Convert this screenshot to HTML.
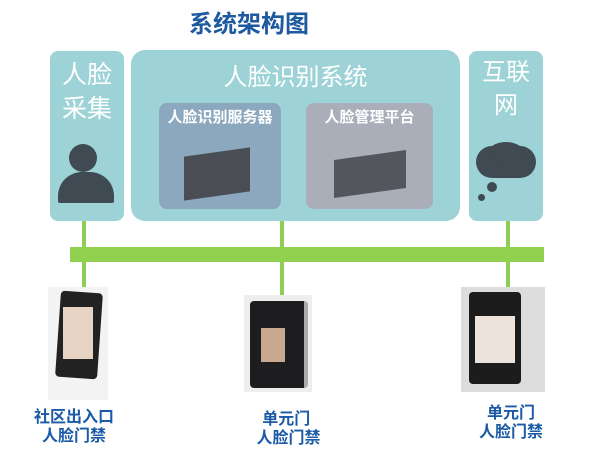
<!DOCTYPE html>
<html><head><meta charset="utf-8"><style>
body{margin:0;width:600px;height:450px;background:#fff;position:relative;overflow:hidden;font-family:"Liberation Sans","Noto Sans CJK SC",sans-serif}
div{position:absolute;box-sizing:border-box}
.box{background:#9dd3d6;border-radius:8px}
.w{color:#fff;text-align:center}
.lbl{color:#1a5aa6;font-weight:bold;font-size:15px;line-height:19px;text-align:center}
.v{background:#8fce55;width:4px}
</style></head><body>
<div style="left:189px;top:4px;font-size:24px;font-weight:bold;color:#1d5a9f">系统架构图</div>
<div class="box" style="left:50px;top:51px;width:74px;height:170px"></div>
<div class="w" style="left:50px;top:58px;width:74px;font-size:25px;line-height:34px">人脸<br>采集</div>
<div style="left:69px;top:144px;width:28px;height:28px;border-radius:50%;background:#3f4a52"></div>
<div style="left:58px;top:172px;width:56px;height:31px;border-radius:24px 24px 2px 2px;background:#3f4a52"></div>
<div class="box" style="left:131px;top:50px;width:329px;height:171px;border-radius:14px"></div>
<div class="w" style="left:131px;top:57px;width:329px;font-size:24px">人脸识别系统</div>
<div style="left:159px;top:103px;width:122px;height:106px;background:#8ca8bf;border-radius:8px"></div>
<div class="w" style="left:159px;top:106px;width:122px;font-size:15px;font-weight:bold">人脸识别服务器</div>
<div style="left:184px;top:152px;width:66px;height:44px;background:#4a4e54;transform:skewY(-8deg)"></div>
<div style="left:306px;top:103px;width:127px;height:106px;background:#a9aeb9;border-radius:8px"></div>
<div class="w" style="left:306px;top:106px;width:127px;font-size:15px;font-weight:bold">人脸管理平台</div>
<div style="left:334px;top:155px;width:72px;height:38px;background:#53575d;transform:skewY(-8deg)"></div>
<div class="box" style="left:469px;top:51px;width:74px;height:170px"></div>
<div class="w" style="left:469px;top:56px;width:74px;font-size:24px;line-height:33px">互联<br>网</div>
<div style="left:476px;top:146px;width:60px;height:32px;border-radius:16px;background:#3f4a52"></div>
<div style="left:488px;top:142px;width:36px;height:22px;border-radius:50%;background:#3f4a52"></div>
<div style="left:487px;top:182px;width:10px;height:10px;border-radius:50%;background:#3f4a52"></div>
<div style="left:478px;top:194px;width:7px;height:7px;border-radius:50%;background:#3f4a52"></div>
<div class="v" style="left:82px;top:221px;height:70px"></div>
<div class="v" style="left:280px;top:221px;height:75px"></div>
<div class="v" style="left:506px;top:221px;height:68px"></div>
<div style="left:70px;top:247px;width:474px;height:15px;background:#92d050"></div>
<div style="left:48px;top:287px;width:60px;height:113px;background:#f3f3f3"></div>
<div style="left:58px;top:292px;width:42px;height:86px;background:#222;border-radius:4px;transform:rotate(4deg)"></div>
<div style="left:63px;top:307px;width:30px;height:52px;background:#e6d3c4"></div>
<div style="left:244px;top:295px;width:68px;height:97px;background:#eee"></div>
<div style="left:250px;top:301px;width:58px;height:87px;background:#1d1d1f;border-radius:4px;border-right:4px solid #aaa"></div>
<div style="left:261px;top:328px;width:24px;height:34px;background:#c9a891"></div>
<div style="left:461px;top:287px;width:84px;height:105px;background:#ddd"></div>
<div style="left:469px;top:292px;width:52px;height:92px;background:#1c1c1c;border-radius:4px"></div>
<div style="left:475px;top:316px;width:40px;height:47px;background:#eee3da"></div>
<div class="lbl" style="left:34px;top:408px;font-size:16px">社区出入口<br>人脸门禁</div>
<div class="lbl" style="left:252px;top:410px;font-size:16px">单元门<br>&nbsp;人脸门禁</div>
<div class="lbl" style="left:466px;top:404px;width:90px;font-size:16px">单元门<br>人脸门禁</div>
</body></html>
